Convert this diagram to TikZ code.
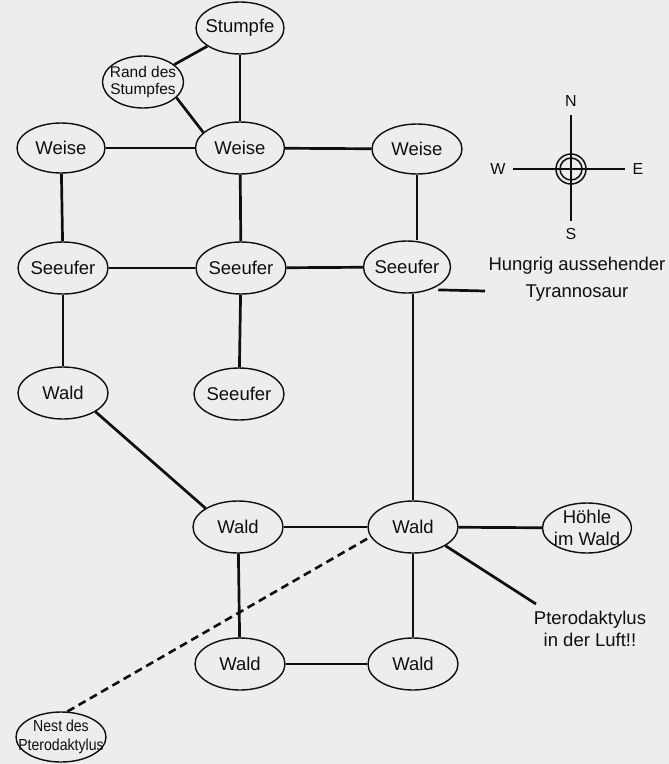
\documentclass[tikz,border=0pt]{standalone}
\usepackage{fontspec}
\setmainfont{Liberation Sans}
\newfontfamily\condfont[FakeStretch=0.88]{Liberation Sans}
\usetikzlibrary{shapes.geometric}
\definecolor{paper}{RGB}{237,237,236}
\definecolor{ink}{RGB}{15,15,15}
\tikzset{
  ell/.style={ellipse, draw=ink, line width=1.4pt, minimum width=90pt, minimum height=52pt, inner sep=0pt},
  conn/.style={draw=ink, line width=2.7pt},
  dconn/.style={draw=ink, line width=2.6pt, dash pattern=on 8pt off 5pt},
  cline/.style={draw=ink, line width=1.5pt},
  lbl/.style={text=ink, inner sep=0pt, align=center},
  smalltxt/.style={font=\fontsize{15.5}{17}\selectfont},
  comptxt/.style={font=\fontsize{16}{18}\selectfont}
}
\begin{document}
\begin{tikzpicture}[x=1pt, y=-1pt, font=\fontsize{18.5}{22}\selectfont]
\fill[paper] (0,0) rectangle (669,764);
\useasboundingbox (0,0) rectangle (669,764);

% nodes
\node[ell, minimum width=88pt, label={[lbl]center:Stumpfe}] (stumpfe) at (240,28) {};
\node[ell, minimum width=81pt, label={[lbl, smalltxt]center:Rand des\\Stumpfes}] (rand) at (143,82) {};
\node[ell, minimum width=88pt, minimum height=50pt, label={[lbl]center:Weise}] (weiseL) at (61,148) {};
\node[ell, minimum width=89pt, label={[lbl]center:Weise}] (weiseM) at (240,148) {};
\node[ell, minimum height=50pt, label={[lbl]center:Weise}] (weiseR) at (417,149) {};
\node[ell, label={[lbl]center:Seeufer}] (seeL) at (63,268) {};
\node[ell, label={[lbl]center:Seeufer}] (seeM) at (241,268) {};
\node[ell, minimum width=87pt, label={[lbl]center:Seeufer}] (seeR) at (407,267) {};
\node[ell, label={[lbl]center:Wald}] (waldL) at (63,393) {};
\node[ell, label={[lbl]center:Seeufer}] (seeLow) at (239,394) {};
\node[ell, label={[lbl]center:Wald}] (waldM) at (238,527) {};
\node[ell, label={[lbl]center:Wald}] (waldR) at (413,527) {};
\node[ell, minimum width=89pt, minimum height=50pt, label={[lbl, font=\fontsize{18.5}{22}\selectfont]center:Höhle\\im Wald}] (hoehle) at (587,528) {};
\node[ell, label={[lbl]center:Wald}] (waldBL) at (240,664) {};
\node[ell, label={[lbl]center:Wald}] (waldBR) at (413,664) {};
\node[ell, minimum height=50pt, label={[lbl, font=\condfont\fontsize{16}{18.5}\selectfont]center:Nest des\\Pterodaktylus}] (nest) at (61,737) {};

% free labels
\node[lbl, font=\fontsize{18.5}{27}\selectfont] (tyr) at (577,279) {Hungrig aussehender\\Tyrannosaur};
\node[lbl, font=\fontsize{18.5}{22}\selectfont] (ptero) at (590,629) {Pterodaktylus\\in der Luft!!};
\coordinate (tyrend) at (485,291);
\coordinate (pteroend) at (536,604);

% connectors
\draw[conn] (stumpfe) -- (rand);
\draw[conn] (stumpfe) -- (weiseM);
\draw[conn] (rand.-25) -- (weiseM.157);
\draw[conn] (weiseL) -- (weiseM);
\draw[conn] (weiseM) -- (weiseR);
\draw[conn] (weiseL) -- (seeL);
\draw[conn] (weiseM) -- (seeM);
\draw[conn] (weiseR.south) -- (weiseR.south |- seeR.north);
\draw[conn] (seeL) -- (seeM);
\draw[conn] (seeM) -- (seeR);
\draw[conn] (seeL) -- (waldL);
\draw[conn] (seeM) -- (seeLow);
\draw[conn] ([yshift=-4pt]seeR.south east) -- (tyrend);
\draw[conn] (waldR.north |- seeR.south) -- (waldR.north);
\draw[conn] (waldL.-30) -- (waldM.150);
\draw[conn] (waldM) -- (waldR);
\draw[conn] (waldR) -- (hoehle);
\draw[conn] (waldM) -- (waldBL);
\draw[conn] (waldR) -- (waldBR);
\draw[conn] (waldBL) -- (waldBR);
\draw[conn] (waldR.-30) -- (pteroend);
\draw[dconn] (nest.76) -- (waldR.193);

% compass
\coordinate (cc) at (571,169);
\coordinate (cn) at (571,115);
\coordinate (cs) at (571,221);
\coordinate (cw) at (513,169);
\coordinate (ce) at (625,169);
\draw[cline] (cw) -- (ce);
\draw[cline] (cn) -- (cs);
\draw[cline] (cc) circle[radius=15pt];
\draw[cline] (cc) circle[radius=11pt];
\node[lbl, comptxt] (labN) at (571,101) {N};
\node[lbl, comptxt] (labS) at (571,234) {S};
\node[lbl, comptxt] (labW) at (498,169) {W};
\node[lbl, comptxt] (labE) at (638,169) {E};
\end{tikzpicture}
\end{document}
